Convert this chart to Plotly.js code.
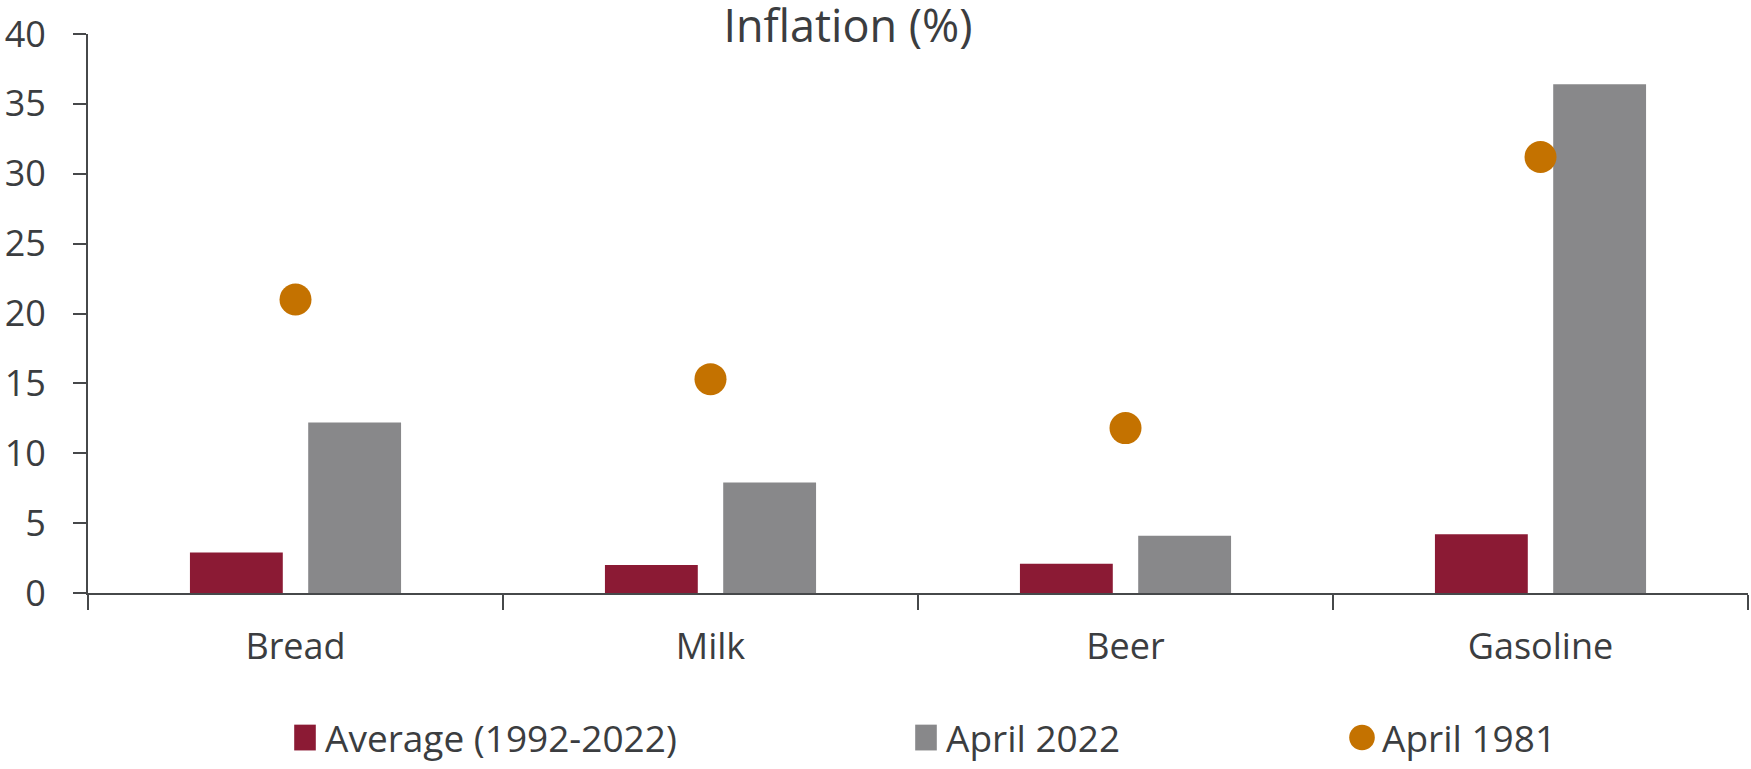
<!DOCTYPE html>
<html>
<head>
<meta charset="utf-8">
<script src="https://cdn.plot.ly/plotly-3.0.1.min.js"></script>
<style>html,body{margin:0;padding:0;background:#fff;}#chart{width:1751px;height:769px;}</style>
</head>
<body>
<div id="chart"></div>
<script>
const categories = ["Bread", "Milk", "Beer", "Gasoline"];
const average_1992_2022 = [2.9, 2.0, 2.1, 4.2];
const april_2022 = [12.2, 7.9, 4.1, 36.4];
const april_1981 = [21.0, 15.3, 11.8, 31.2];
const yTicks = [0, 5, 10, 15, 20, 25, 30, 35, 40];

const textColor = "#3b3d40";
const fontFam = "Open Sans, sans-serif";

const traces = [
  {type: "bar", name: "Average (1992-2022)", x: categories, y: average_1992_2022,
   marker: {color: "#8b1a34"}, legend: "legend"},
  {type: "bar", name: "April 2022", x: categories, y: april_2022,
   marker: {color: "#88888a"}, legend: "legend2"},
  {type: "scatter", mode: "markers", name: "April 1981", x: categories, y: april_1981,
   marker: {color: "#c47200", size: 32}, legend: "legend3"}
];

const legendBase = {orientation: "h", yref: "container", y: -3/769, yanchor: "bottom",
  xref: "container", xanchor: "left", font: {family: fontFam, size: 37, color: textColor},
  bgcolor: "rgba(0,0,0,0)", itemclick: false};

const layout = {
  width: 1751, height: 769,
  margin: {l: 88, r: 3, t: 34, b: 176},
  paper_bgcolor: "#ffffff", plot_bgcolor: "#ffffff",
  font: {family: fontFam, color: textColor},
  title: {text: "Inflation (%)", font: {family: fontFam, size: 45, color: textColor},
          x: 848/1751, xref: "container", xanchor: "center", y: 1 - 26/769, yref: "container", yanchor: "middle"},
  barmode: "group", bargap: 0.43, bargroupgap: 0.215,
  showlegend: true,
  xaxis: {type: "category", showline: true, linecolor: "#46484a", linewidth: 2,
          ticks: "outside", tickson: "boundaries", ticklen: 15, tickwidth: 2, tickcolor: "#46484a",
          tickfont: {family: fontFam, size: 36, color: textColor}, ticklabelstandoff: 21,
          showgrid: false, zeroline: false, fixedrange: true},
  yaxis: {range: [0, 40], tickvals: yTicks, ticktext: yTicks.map(String),
          showline: true, linecolor: "#46484a", linewidth: 2,
          ticks: "outside", ticklen: 13, tickwidth: 2, tickcolor: "#46484a",
          tickfont: {family: fontFam, size: 36, color: textColor}, ticklabelstandoff: 20,
          showgrid: false, zeroline: false, fixedrange: true},
  legend: Object.assign({}, legendBase, {x: 285/1751}),
  legend2: Object.assign({}, legendBase, {x: 906/1751}),
  legend3: Object.assign({}, legendBase, {x: 1342/1751})
};

Plotly.newPlot("chart", traces, layout, {displayModeBar: false, staticPlot: true}).then(function (gd) {
  // enlarge the legend symbols to match the reference's larger keys
  gd.querySelectorAll(".legendpoints path").forEach(function (p) {
    const t = p.getAttribute("transform") || "";
    const isBar = p.closest(".legendbar") !== null || (p.getAttribute("d") || "").indexOf("M6,6H-6V-6H6Z") === 0;
    p.setAttribute("transform", t + (isBar ? " scale(1.8,2.15)" : " scale(1.6)"));
  });
});
</script>
</body>
</html>
